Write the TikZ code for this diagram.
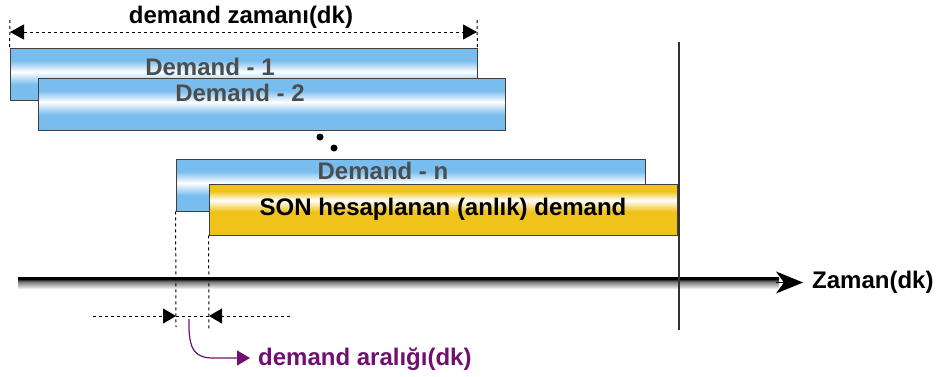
\documentclass[tikz,border=0pt]{standalone}
\usepackage{fontspec}
\setmainfont{Liberation Sans}
\usepackage{xcolor}
\usetikzlibrary{arrows.meta,positioning}

\definecolor{barblue}{HTML}{79BDEE}
\definecolor{baryellow}{HTML}{F0C31A}
\definecolor{dimpurple}{HTML}{701070}
\definecolor{dgray}{HTML}{4D4D4D}

\pgfdeclareverticalshading{bluebar}{100bp}{color(0bp)=(barblue); color(40bp)=(barblue); color(52bp)=(white); color(63bp)=(barblue); color(100bp)=(barblue)}
\pgfdeclareverticalshading{yellowbar}{100bp}{color(0bp)=(baryellow); color(48bp)=(baryellow); color(59bp)=(white); color(68bp)=(baryellow); color(100bp)=(baryellow)}
\pgfdeclareverticalshading{axisbar}{100bp}{color(0bp)=(black!8); color(25bp)=(black!8); color(55bp)=(black!55); color(66bp)=(black); color(100bp)=(black)}

\begin{document}
\begin{tikzpicture}[x=1pt, y=-1pt,
    bar/.style={rectangle, draw=black!75, line width=0.8pt, minimum width=467pt, minimum height=52pt, inner sep=0pt, shade, shading=bluebar},
    sonbar/.style={bar, minimum height=51pt, shading=yellowbar, font=\fontsize{24}{27}\selectfont\bfseries},
    bartext/.style={font=\fontsize{24}{27}\selectfont\bfseries, text=dgray, inner sep=0pt},
    lbl/.style={font=\fontsize{24}{27}\selectfont\bfseries, inner sep=0pt},
    dimline/.style={dash pattern=on 3pt off 3pt, line width=1pt},
    dimtip/.style={-{Triangle[length=13pt, width=15pt]}}
]
    \useasboundingbox (0,0) rectangle (941,376);

    % bars
    \node[bar] (d1) at (243.5,74) {};
    \node[bar] (d2) at (271.5,104) {};
    \node[bar, minimum width=469pt] (dn) at (410.5,185) {};
    \node[sonbar, minimum width=468pt] (son) at (443,209.5) {SON hesaplanan (anlık) demand};

    \node[bartext] (t1) at (210,67) {Demand - 1};
    \node[bartext] (t2) at (240,93) {Demand - 2};
    \node[bartext] (tn) at (383,170.5) {Demand - n};

    \fill (320,137) circle (3.5pt);
    \fill (334,148) circle (3.5pt);

    % demand zamani
    \coordinate (zl) at (10,20);
    \coordinate (zr) at (477,20);
    \coordinate (za) at (10,32);
    \coordinate (zb) at (477,32);
    \draw[dimline] (zl) -- (d1.north west);
    \draw[dimline] (zr) -- (d1.north east);
    \draw[dimline, {Triangle[length=14pt, width=15pt]}-{Triangle[length=14pt, width=15pt]}] (za) -- (zb);
    \node[lbl] (zamani) at (241,17) {demand zamanı(dk)};

    % time axis
    \coordinate (ax0) at (18,277);
    \coordinate (ax1) at (779,288);
    \coordinate (axbase) at (776,282.5);
    \coordinate (axtip) at (803,282.5);
    \shade[shading=axisbar] (ax0) rectangle (ax1);
    \draw[line width=1pt, -{Stealth[length=27pt, width=22pt, inset=8pt]}] (axbase) -- (axtip);
    \node[lbl, right=9pt of axtip] (zaman) {Zaman(dk)};

    \coordinate (nowtop) at (679,42);
    \coordinate (nowbot) at (679,330);
    \draw[line width=1.5pt, black!80] (nowtop) -- (nowbot);

    % demand araligi
    \coordinate (g0) at (176,327);
    \coordinate (g1) at (209,331);
    \draw[dimline] (dn.south west) -- (g0);
    \draw[dimline] (son.south west) -- (g1);
    \coordinate (h0) at (93,316);
    \coordinate (h1) at (290,316);
    \coordinate (ga) at (176,316);
    \coordinate (gb) at (209,316);
    \draw[dimline, dimtip] (h0) -- (ga);
    \draw[dimline, dimtip] (h1) -- (gb);
    \draw[dimline] (ga) -- (gb);

    \coordinate (p0) at (189,319);
    \coordinate (ptip) at (250,358);
    \draw[dimpurple, line width=1.2pt, -{Triangle[length=13pt, width=15pt]}] (p0) .. controls (188,352) and (196,358) .. (214,358) -- (ptip);
    \node[lbl, text=dimpurple, anchor=base west] (aralik) at (258,365) {demand aralığı(dk)};
\end{tikzpicture}
\end{document}
